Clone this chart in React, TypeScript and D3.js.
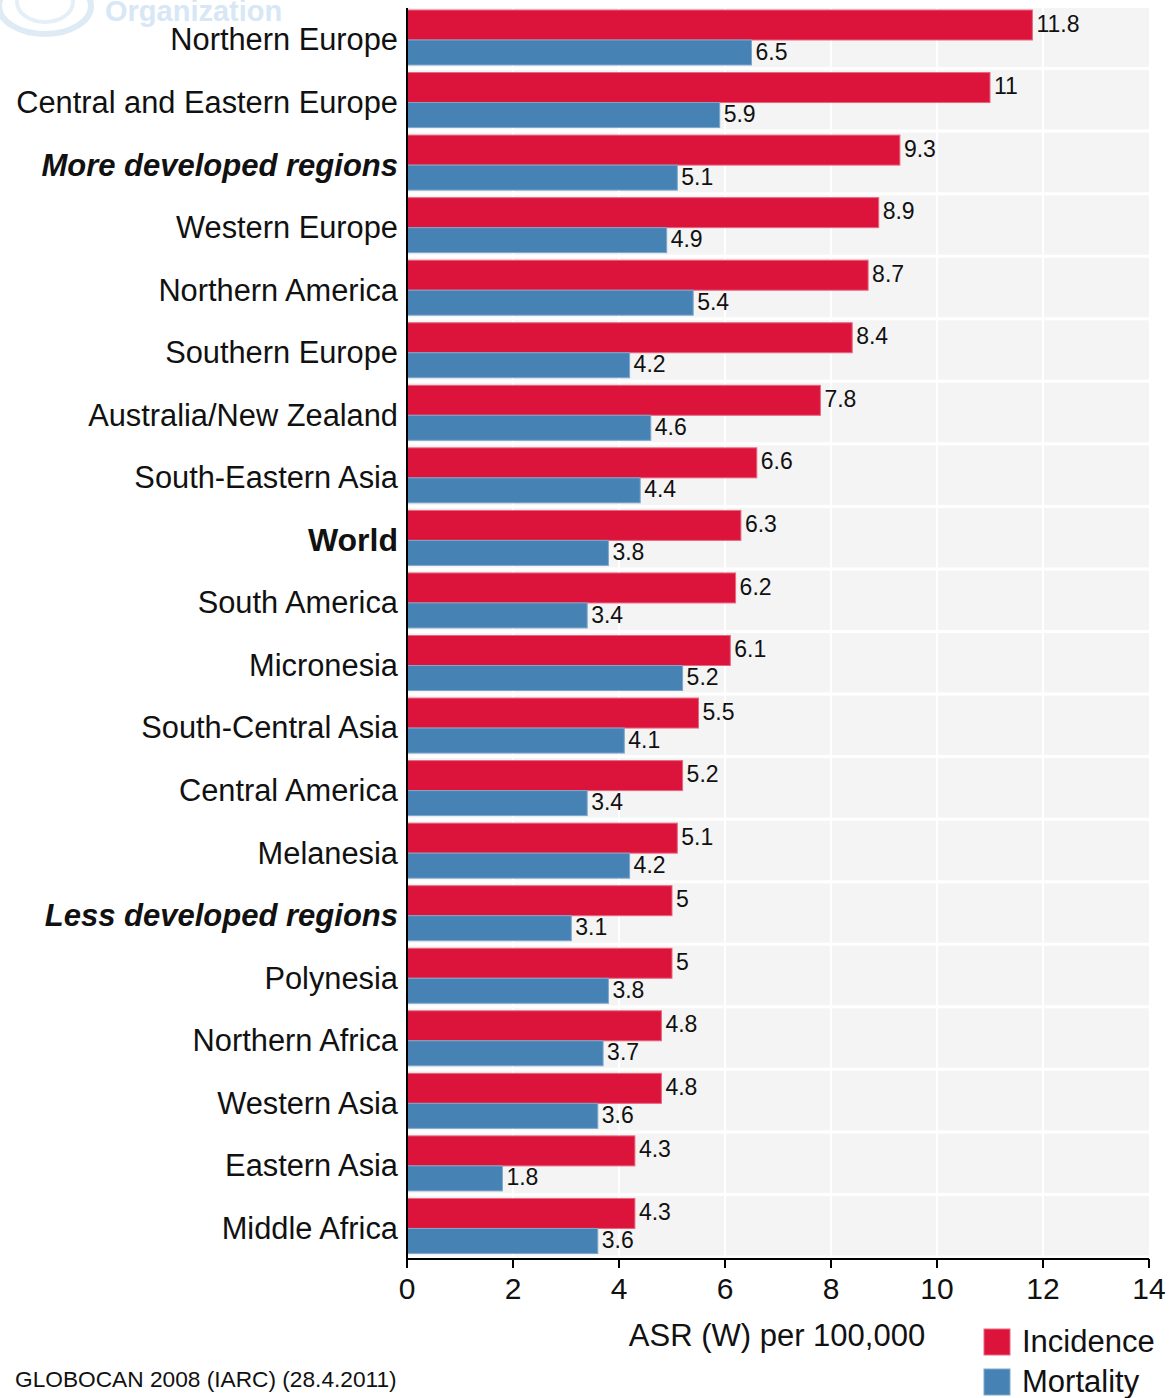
import React from "react";
import * as d3 from "d3";

const categories = [
  "Northern Europe",
  "Central and Eastern Europe",
  "More developed regions",
  "Western Europe",
  "Northern America",
  "Southern Europe",
  "Australia/New Zealand",
  "South-Eastern Asia",
  "World",
  "South America",
  "Micronesia",
  "South-Central Asia",
  "Central America",
  "Melanesia",
  "Less developed regions",
  "Polynesia",
  "Northern Africa",
  "Western Asia",
  "Eastern Asia",
  "Middle Africa",
];
const incidence = [11.8, 11, 9.3, 8.9, 8.7, 8.4, 7.8, 6.6, 6.3, 6.2, 6.1, 5.5, 5.2, 5.1, 5, 5, 4.8, 4.8, 4.3, 4.3];
const mortality = [6.5, 5.9, 5.1, 4.9, 5.4, 4.2, 4.6, 4.4, 3.8, 3.4, 5.2, 4.1, 3.4, 4.2, 3.1, 3.8, 3.7, 3.6, 1.8, 3.6];
const boldItalic = ["More developed regions", "Less developed regions"];
const boldOnly = ["World"];
const xTicks = [0, 2, 4, 6, 8, 10, 12, 14];
const legendItems = ["Incidence", "Mortality"];
const axisTitle = "ASR (W) per 100,000";
const footer = "GLOBOCAN 2008 (IARC) (28.4.2011)";
const watermark = "Organization";

const RED = "#dc143c";
const BLUE = "#4682b4";
const FONT = "'Liberation Sans', Arial, sans-serif";

export default function App() {
  const W = 1169;
  const H = 1398;
  const left = 407;
  const right = 1149;
  const top = 8;
  const bottom = 1259;

  const x = d3.scaleLinear().domain([0, 14]).range([left, right]);
  const y = d3.scaleBand<string>().domain(categories).range([top, bottom]).padding(0);
  const bw = y.bandwidth();

  return (
    <div style={{ position: "absolute", left: 0, top: 0, width: W, height: H, background: "#fff" }}>
      <svg width={W} height={H} style={{ display: "block" }} fontFamily={FONT}>
        {/* watermark */}
        <g opacity={0.9}>
          <ellipse cx={45} cy={6} rx={46} ry={28} fill="none" stroke="#dbe9f5" strokeWidth={6} />
          <ellipse cx={45} cy={2} rx={28} ry={20} fill="none" stroke="#e3eef8" strokeWidth={4} />
          <text x={105} y={21} fontSize={29} fontWeight="bold" fill="#d3e5f4">
            {watermark}
          </text>
        </g>

        {/* plot background */}
        <rect x={left} y={top} width={right - left} height={bottom - top} fill="#f4f4f4" />

        {/* vertical grid */}
        {xTicks.slice(1, -1).map((t) => (
          <line key={"g" + t} x1={x(t)} x2={x(t)} y1={top} y2={bottom} stroke="#ffffff" strokeWidth={2} />
        ))}
        {/* horizontal separators */}
        {categories.map((c) => (
          <line
            key={"s" + c}
            x1={left}
            x2={right}
            y1={(y(c) as number) + bw - 2}
            y2={(y(c) as number) + bw - 2}
            stroke="#ffffff"
            strokeWidth={3}
          />
        ))}

        {/* bars */}
        {categories.map((c, i) => {
          const y0 = y(c) as number;
          return (
            <g key={"b" + c}>
              <rect
                x={x(0)}
                y={y0 + 2}
                width={x(incidence[i]) - x(0)}
                height={30}
                fill={RED}
                stroke="#e8667f"
                strokeWidth={1}
              />
              <rect
                x={x(0)}
                y={y0 + 32}
                width={x(mortality[i]) - x(0)}
                height={25}
                fill={BLUE}
                stroke="#7fa7cb"
                strokeWidth={1}
              />
              <text
                x={x(incidence[i]) + 4}
                y={y0 + 17.5}
                fontSize={23}
                fill="#111"
                dominantBaseline="middle"
              >
                {String(incidence[i])}
              </text>
              <text
                x={x(mortality[i]) + 4}
                y={y0 + 45.5}
                fontSize={23}
                fill="#111"
                dominantBaseline="middle"
              >
                {String(mortality[i])}
              </text>
            </g>
          );
        })}

        {/* category labels */}
        {categories.map((c) => {
          const bi = boldItalic.includes(c);
          const b = boldOnly.includes(c);
          return (
            <text
              key={"l" + c}
              x={398}
              y={(y(c) as number) + bw / 2 + 3}
              textAnchor="end"
              dominantBaseline="middle"
              fontSize={b ? 32 : bi ? 31 : 30.8}
              fontWeight={bi || b ? "bold" : "normal"}
              fontStyle={bi ? "italic" : "normal"}
              fill="#111"
            >
              {c}
            </text>
          );
        })}

        {/* axes */}
        <line x1={left} x2={left} y1={top} y2={bottom} stroke="#000" strokeWidth={2} />
        <line x1={left} x2={right} y1={bottom} y2={bottom} stroke="#000" strokeWidth={2} />
        {xTicks.map((t) => (
          <g key={"t" + t}>
            <line x1={x(t)} x2={x(t)} y1={bottom} y2={bottom + 9} stroke="#000" strokeWidth={2} />
            <text x={x(t)} y={1291} textAnchor="middle" dominantBaseline="middle" fontSize={30} fill="#111">
              {t}
            </text>
          </g>
        ))}
        <text x={777} y={1338} textAnchor="middle" dominantBaseline="middle" fontSize={31} fill="#111">
          {axisTitle}
        </text>

        {/* legend */}
        {legendItems.map((l, i) => (
          <g key={"lg" + l}>
            <rect
              x={984}
              y={1329 + i * 40}
              width={26}
              height={26}
              fill={i === 0 ? RED : BLUE}
              stroke={i === 0 ? "#e8667f" : "#7fa7cb"}
              strokeWidth={1}
            />
            <text x={1022} y={1344 + i * 40} dominantBaseline="middle" fontSize={31} fill="#111">
              {l}
            </text>
          </g>
        ))}

        {/* footer */}
        <text x={15} y={1381} dominantBaseline="middle" fontSize={22.7} fill="#111">
          {footer}
        </text>
      </svg>
    </div>
  );
}
